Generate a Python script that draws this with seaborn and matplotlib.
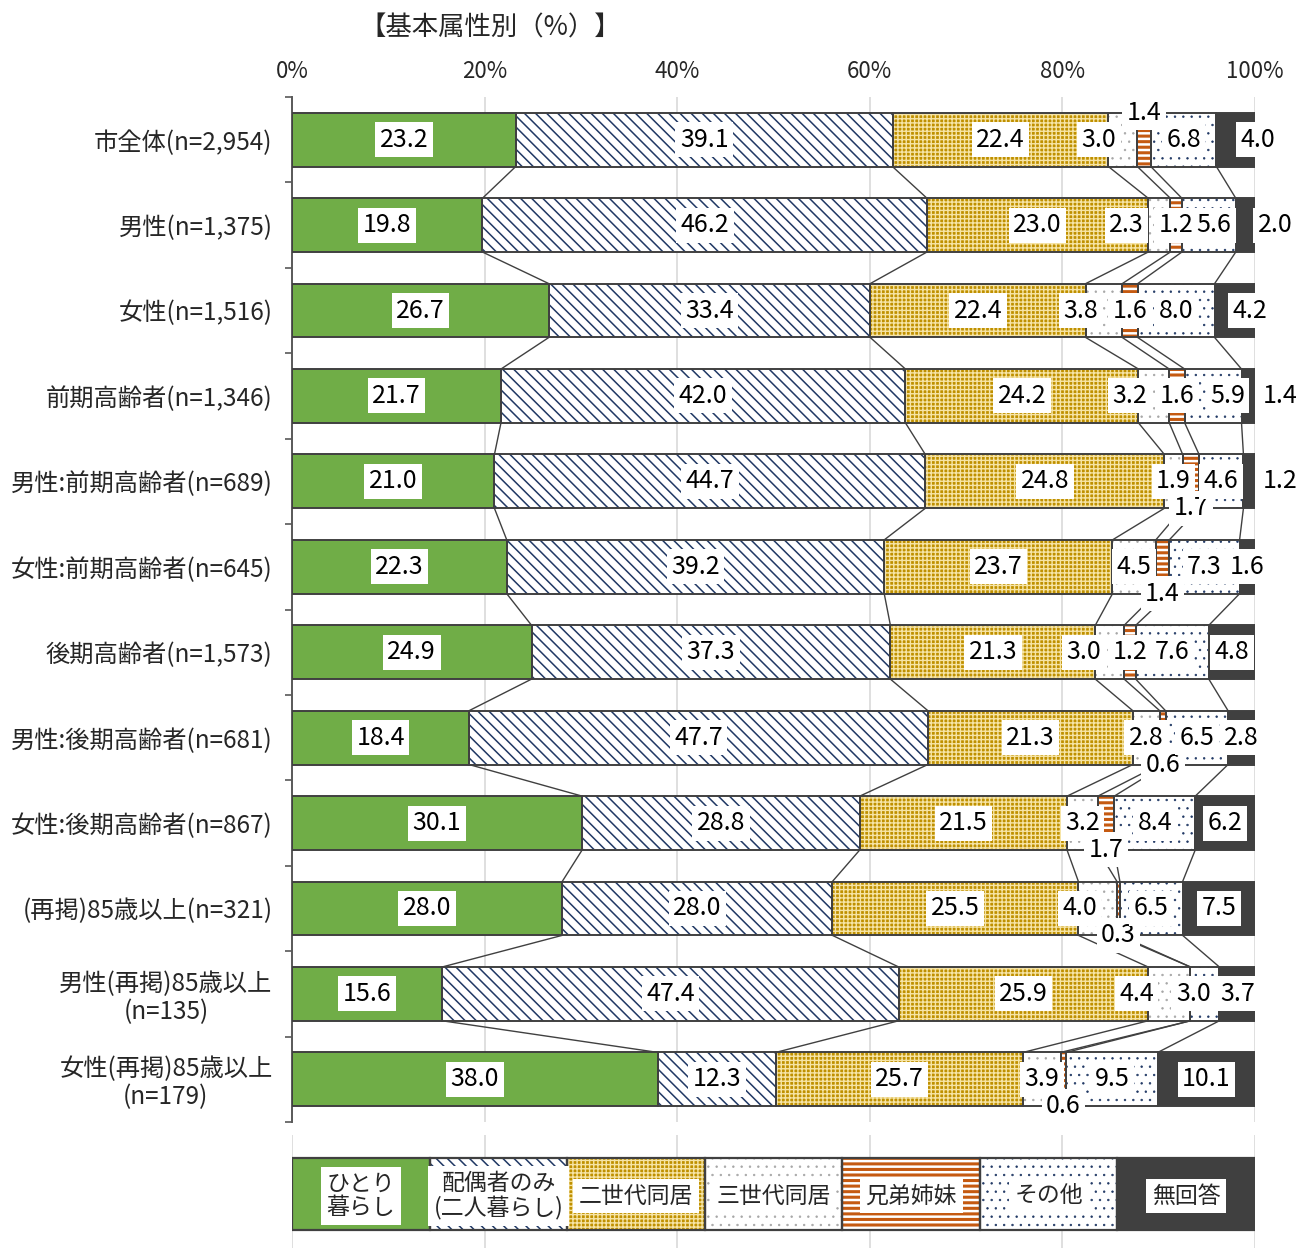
import matplotlib
matplotlib.use('Agg')
import matplotlib.pyplot as plt
import numpy as np
import pandas as pd
import seaborn as sns

# Data (%)
groups = ['市全体(n=2,954)', '男性(n=1,375)', '女性(n=1,516)', '前期高齢者(n=1,346)',
          '男性:前期高齢者(n=689)', '女性:前期高齢者(n=645)', '後期高齢者(n=1,573)',
          '男性:後期高齢者(n=681)', '女性:後期高齢者(n=867)', '(再掲)85歳以上(n=321)',
          '男性(再掲)85歳以上\n(n=135)', '女性(再掲)85歳以上\n(n=179)']
categories = ['ひとり暮らし', '配偶者のみ(二人暮らし)', '二世代同居', '三世代同居',
              '兄弟姉妹', 'その他', '無回答']
legend_labels = ['ひとり\n暮らし', '配偶者のみ\n(二人暮らし)', '二世代同居', '三世代同居',
                 '兄弟姉妹', 'その他', '無回答']
alone = [23.2, 19.8, 26.7, 21.7, 21.0, 22.3, 24.9, 18.4, 30.1, 28.0, 15.6, 38.0]
couple = [39.1, 46.2, 33.4, 42.0, 44.7, 39.2, 37.3, 47.7, 28.8, 28.0, 47.4, 12.3]
two_gen = [22.4, 23.0, 22.4, 24.2, 24.8, 23.7, 21.3, 21.3, 21.5, 25.5, 25.9, 25.7]
three_gen = [3.0, 2.3, 3.8, 3.2, 1.9, 4.5, 3.0, 2.8, 3.2, 4.0, 4.4, 3.9]
siblings = [1.4, 1.2, 1.6, 1.6, 1.7, 1.4, 1.2, 0.6, 1.7, 0.3, 0.0, 0.6]
other = [6.8, 5.6, 8.0, 5.9, 4.6, 7.3, 7.6, 6.5, 8.4, 6.5, 3.0, 9.5]
no_answer = [4.0, 2.0, 4.2, 1.4, 1.2, 1.6, 4.8, 2.8, 6.2, 7.5, 3.7, 10.1]

df = pd.DataFrame(dict(zip(categories, [alone, couple, two_gen, three_gen,
                                        siblings, other, no_answer])), index=groups)
share = df.div(df.sum(axis=1), axis=0) * 100   # 100% stacked, like Excel
cum = share.cumsum(axis=1)
start = cum - share

# styles: (face, hatch, hatch colour, hatch linewidth)
styles = [('#70AD47', '', '#70AD47', 1.0),
          ('white', '\\\\\\', '#203864', 1.1),
          ('#BF9000', '++++', '#F6E4A6', 1.0),
          ('white', '..', '#A6A6A6', 0.5),
          ('white', '---', '#C55A11', 2.2),
          ('white', '..', '#203864', 0.5),
          ('#404040', '', '#404040', 1.0)]
edge = '#404040'

# label placement tweaks
sib_place = ['above', 'in', 'in', 'in', 'below', 'below', 'in', 'below', 'below', 'below', None, 'below']
three_dx = [-2.5, -3.4, -2.4, -2.5, 0, 0, -2.7, 0, 0, -1.9, -3.4, 0]
other_dx = [0, 0.5, 0, 1.5, 0, 0, 0, 0, 0, 0, -1.2, 0]
na_dx = [2.3, 3.1, 1.6, 3.3, 3.2, 0, 0, 0, 0, 0, 0, 0]

sns.set_theme(style='white')
plt.rcParams['font.family'] = ['Noto Sans CJK JP', 'DejaVu Sans']
plt.rcParams['axes.unicode_minus'] = False

fig = plt.figure(figsize=(12.99, 12.48), dpi=100)
ax = fig.add_axes([292 / 1299, 1 - 1122 / 1248, 963 / 1299, (1122 - 97) / 1248])

h = 0.63
ypos = np.arange(len(groups))

def set_hlw(patches, lw):
    for p in patches:
        if hasattr(p, 'set_hatch_linewidth'):
            p.set_hatch_linewidth(lw)

# fills: overlay cumulative totals from the right-most segment down
for j in reversed(range(len(categories))):
    face, hatch, hcol, hlw = styles[j]
    with plt.rc_context({'hatch.linewidth': hlw}):
        sns.barplot(x=cum.iloc[:, j].values, y=groups, orient='h', order=groups,
                    color=face, saturation=1, width=h, hatch=hatch,
                    edgecolor=hcol, linewidth=0, ax=ax)
        set_hlw(ax.containers[-1].patches, hlw)

# outlines of each segment
for j, c in enumerate(categories):
    ax.barh(ypos, share[c], left=start[c], height=h, fill=False,
            edgecolor=edge, linewidth=1.4, zorder=3)

# connector lines between bars
for i in range(len(groups) - 1):
    for j in range(len(categories) - 1):
        ax.plot([cum.iloc[i, j], cum.iloc[i + 1, j]], [i + h / 2, i + 1 - h / 2],
                color=edge, lw=1.0, zorder=2)

# data labels
box = dict(boxstyle='square,pad=0.18', facecolor='white', edgecolor='none')
for i in range(len(groups)):
    for j, c in enumerate(categories):
        v = df.iloc[i, j]
        x = start.iloc[i, j] + share.iloc[i, j] / 2
        y = i
        if j == 4:
            if sib_place[i] is None:
                continue
            if sib_place[i] == 'above':
                y = i - h / 2
            elif sib_place[i] == 'below':
                y = i + h / 2
        elif j == 3:
            x += three_dx[i]
        elif j == 5:
            x += other_dx[i]
        elif j == 6:
            x += na_dx[i]
        ax.text(x, y, f'{v:.1f}', ha='center', va='center', fontsize=18,
                color='black', bbox=box, zorder=5)

ax.set_xlim(0, 100)
ax.set_ylim(len(groups) - 0.5, -0.5)
ax.xaxis.tick_top()
ax.set_xticks(range(0, 101, 20))
ax.set_xticklabels([f'{v}%' for v in range(0, 101, 20)], fontsize=16)
ax.tick_params(axis='x', length=0, pad=10)
ax.set_yticks(ypos)
ax.set_yticklabels(groups, fontsize=17.5, multialignment='center', linespacing=1.1)
ax.tick_params(axis='y', which='major', length=0, pad=14)
ax.set_yticks(np.arange(-0.5, len(groups), 1), minor=True)
ax.tick_params(axis='y', which='minor', left=True, length=5, width=1.2, color='#595959')
ax.set_xlabel('')
ax.set_ylabel('')
ax.grid(axis='x', color='#D9D9D9', lw=1.2)
ax.grid(axis='y', visible=False)
ax.set_axisbelow(True)
for s in ['top', 'right', 'bottom']:
    ax.spines[s].set_visible(False)
ax.spines['left'].set_color('#595959')
ax.spines['left'].set_linewidth(1.4)

fig.text(490 / 1299, 1 - 28 / 1248, '【基本属性別（%）】', ha='center', va='center', fontsize=19)

# legend drawn as its own bar
lax = fig.add_axes([292 / 1299, 0, 963 / 1299, 113 / 1248])
lax.set_xlim(0, 100)
lax.set_ylim(0, 113)
seg = 100 / len(categories)
for j, lab in enumerate(legend_labels):
    face, hatch, hcol, hlw = styles[j]
    with plt.rc_context({'hatch.linewidth': hlw}):
        bars = lax.barh([54], [seg], left=[j * seg], height=72, color=face,
                        hatch=hatch, edgecolor=hcol, linewidth=0, zorder=2)
        set_hlw(bars.patches, hlw)
    lax.barh([54], [seg], left=[j * seg], height=72, fill=False,
             edgecolor=edge, linewidth=1.6, zorder=3)
    lax.text(j * seg + seg / 2, 52, lab, ha='center', va='center', fontsize=16.5,
             linespacing=1.05, bbox=dict(boxstyle='square,pad=0.25', facecolor='white',
                                         edgecolor='none'), zorder=4)
lax.set_xticks(range(0, 101, 20))
lax.set_yticks([])
lax.tick_params(axis='x', length=0, labelbottom=False)
lax.grid(axis='x', color='#D9D9D9', lw=1.2)
lax.set_axisbelow(True)
for s in lax.spines.values():
    s.set_visible(False)

fig.savefig('out.png', dpi=100)
